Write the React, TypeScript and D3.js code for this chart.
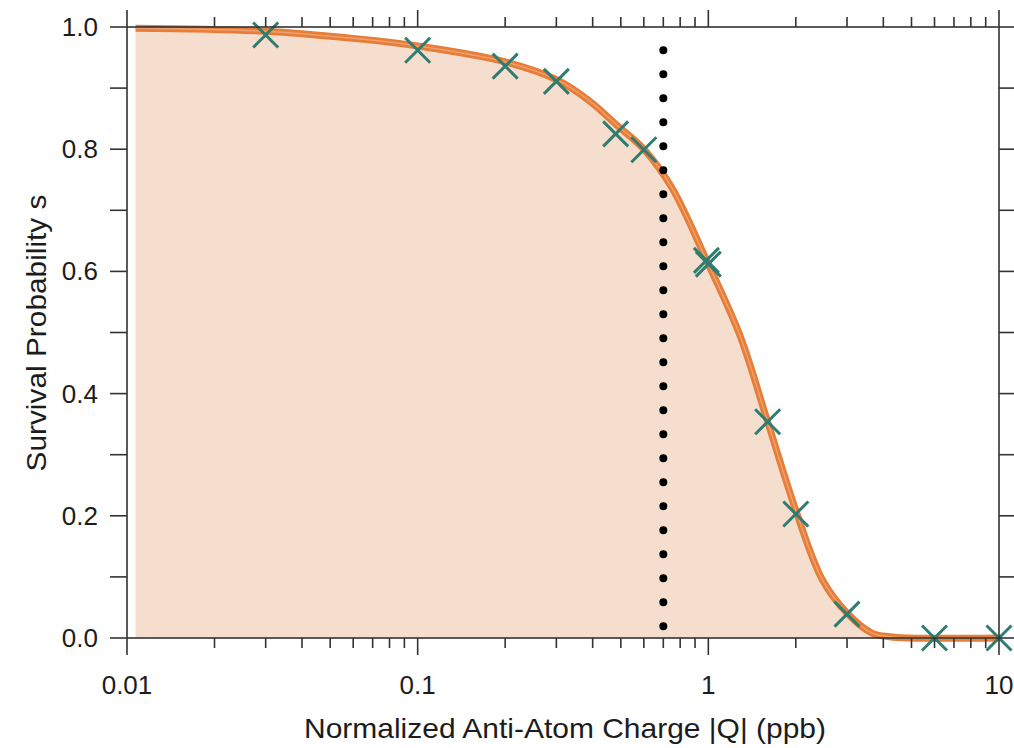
import React from "react";
import * as d3 from "d3";

// ---- data ----
const CURVE_Q = [0.0107, 0.03, 0.058, 0.1, 0.2, 0.303, 0.39, 0.483, 0.603, 0.751, 0.984, 1.28, 1.6, 2.0, 2.47, 3.0, 3.66, 4.2, 4.9, 10];
const CURVE_S = [0.998, 0.993, 0.982, 0.969, 0.943, 0.913, 0.879, 0.840, 0.799, 0.736, 0.619, 0.497, 0.354, 0.209, 0.095, 0.041, 0.008, 0.002, 0, 0];

const DATA_Q = [0.03, 0.1, 0.2, 0.3, 0.48, 0.6, 0.985, 1.0, 1.6, 2.0, 3.0, 6.0, 10];
const DATA_S = [0.987, 0.962, 0.936, 0.911, 0.825, 0.799, 0.618, 0.612, 0.354, 0.203, 0.039, 0, 0];

const THRESHOLD_Q = 0.7;
const THRESHOLD_S = [0.962, 0.018];

const X_TICKS = [0.01, 0.1, 1, 10];
const X_TICK_LABELS = ["0.01", "0.1", "1", "10"];
const Y_LABEL_TICKS = [0, 0.2, 0.4, 0.6, 0.8, 1.0];
const Y_TICK_LABELS = ["0.0", "0.2", "0.4", "0.6", "0.8", "1.0"];

const X_TITLE = "Normalized Anti-Atom Charge |Q| (ppb)";
const Y_TITLE = "Survival Probability s";

export default function App() {
  const W = 1014, H = 748;
  const L = 127, R = 999, T = 27, B = 638;
  const x = d3.scaleLog().domain([0.01, 10]).range([L, R]);
  const y = d3.scaleLinear().domain([0, 1]).range([B, T]);

  const curve = CURVE_Q.map((q, i) => ({ q, s: CURVE_S[i] }));
  const pts = DATA_Q.map((q, i) => ({ q, s: DATA_S[i] }));

  const cf = d3.curveCatmullRom.alpha(0.5);
  const line = d3.line<any>().x(d => x(d.q)).y(d => Math.min(y(0), y(d.s))).curve(cf);
  const area = d3.area<any>().x(d => x(d.q)).y0(y(0)).y1(d => y(d.s)).curve(cf);

  const minor: number[] = [];
  [0.01, 0.1, 1].forEach(dec => { for (let k = 2; k <= 9; k++) minor.push(dec * k); });
  const yTicks = d3.range(0, 11).map(i => i / 10);

  const axisColor = "#333";
  const textColor = "#1c1c1c";
  const font = "'Liberation Sans', Arial, Helvetica, sans-serif";
  const teal = "#2f7d71";
  const m = 12.5;

  return (
    <div style={{ position: "fixed", left: 0, top: 0 }}>
      <svg width={W} height={H} style={{ display: "block", background: "#fff" }} fontFamily={font}>
        <defs>
          <clipPath id="plotclip">
            <rect x={L} y={T - 10} width={R - L + 10} height={B - T + 10} />
          </clipPath>
        </defs>
        {/* filled area */}
        <path d={area(curve) || ""} fill="#f6dece" clipPath="url(#plotclip)" />
        {/* curve band */}
        <path d={line(curve) || ""} fill="none" stroke="#e67d38" strokeWidth={7} strokeLinejoin="round" />
        <path d={line(curve) || ""} fill="none" stroke="#f0a06c" strokeWidth={1.5} strokeLinejoin="round" />
        {/* dotted threshold */}
        <line x1={x(THRESHOLD_Q)} x2={x(THRESHOLD_Q)} y1={y(THRESHOLD_S[0])} y2={y(THRESHOLD_S[1])}
          stroke="#000" strokeWidth={8} strokeLinecap="round" strokeDasharray="0 24" />
        {/* markers */}
        {pts.map((p, i) => (
          <path key={i} transform={`translate(${x(p.q)},${y(p.s)})`}
            d={`M${-m},${-m}L${m},${m}M${-m},${m}L${m},${-m}`} stroke={teal} strokeWidth={3} fill="none" />
        ))}
        {/* frame */}
        <rect x={L} y={T} width={R - L} height={B - T} fill="none" stroke={axisColor} strokeWidth={1.6} />
        {/* x ticks bottom/top */}
        {X_TICKS.map((t, i) => (
          <g key={"xm" + i}>
            <line x1={x(t)} x2={x(t)} y1={B} y2={B + 17} stroke={axisColor} strokeWidth={1.6} />
            <line x1={x(t)} x2={x(t)} y1={T} y2={T - 17} stroke={axisColor} strokeWidth={1.6} />
            <text x={x(t)} y={685} textAnchor="middle" dominantBaseline="central" fontSize={26} fill={textColor}>{X_TICK_LABELS[i]}</text>
          </g>
        ))}
        {minor.map((t, i) => (
          <g key={"xn" + i}>
            <line x1={x(t)} x2={x(t)} y1={B} y2={B + 10} stroke={axisColor} strokeWidth={1.6} />
            <line x1={x(t)} x2={x(t)} y1={T} y2={T - 10} stroke={axisColor} strokeWidth={1.6} />
          </g>
        ))}
        {/* y ticks left/right */}
        {yTicks.map((t, i) => (
          <g key={"y" + i}>
            <line x1={L} x2={L - 17} y1={y(t)} y2={y(t)} stroke={axisColor} strokeWidth={1.6} />
            <line x1={R} x2={R + 15} y1={y(t)} y2={y(t)} stroke={axisColor} strokeWidth={1.6} />
          </g>
        ))}
        {Y_LABEL_TICKS.map((t, i) => (
          <text key={"yl" + i} x={98} y={y(t)} textAnchor="end" dominantBaseline="central" fontSize={26} fill={textColor}>{Y_TICK_LABELS[i]}</text>
        ))}
        {/* titles */}
        <text x={565} y={728} textAnchor="middle" dominantBaseline="central" fontSize={28} fill={textColor}
          textLength={522} lengthAdjust="spacingAndGlyphs">{X_TITLE}</text>
        <text transform={`translate(46,333) rotate(-90)`} textAnchor="middle" fontSize={28} fill={textColor}
          textLength={277} lengthAdjust="spacingAndGlyphs">{Y_TITLE}</text>
      </svg>
    </div>
  );
}
